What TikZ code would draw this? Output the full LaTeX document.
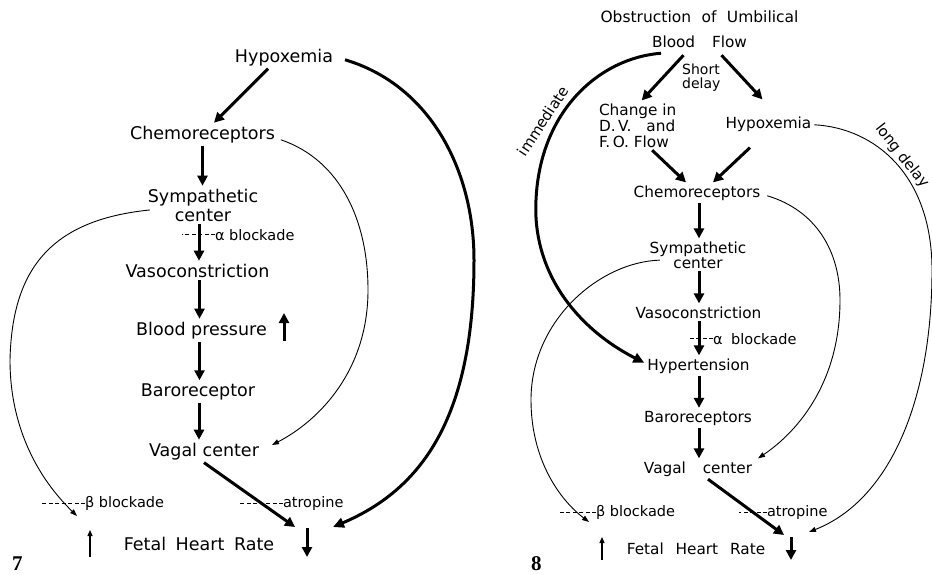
\documentclass[tikz,border=0pt]{standalone}
\usepackage{fontspec}
\setmainfont{DejaVu Sans}
\newfontfamily\numfont{Liberation Serif}
\usetikzlibrary{arrows.meta}

\tikzset{
  lab/.style={inner sep=0pt, outer sep=3pt, anchor=base},
  bigtxt/.style={lab, font=\fontsize{17.5}{19}\selectfont},
  smtxt/.style={lab, font=\fontsize{15.3}{15}\selectfont},
  note/.style={inner sep=0pt, outer sep=0pt, anchor=base west, font=\fontsize{14.5}{16}\selectfont},
  slant/.style={inner sep=0pt, outer sep=0pt, font=\fontsize{14.8}{16}\selectfont},
  fignum/.style={inner sep=0pt, anchor=base west, font=\numfont\bfseries\fontsize{21}{21}\selectfont},
  heavy/.style={line width=3pt, -{Triangle[length=10pt,width=10pt]}},
  heavycurve/.style={line width=3pt, -{Triangle[length=11pt,width=10pt]}},
  light/.style={line width=0.9pt, -{Triangle[length=7pt,width=5pt]}},
  tick/.style={line width=1.1pt, -{Triangle[length=6pt,width=5pt]}},
  block/.style={line width=0.7pt, dash pattern=on 4pt off 2.5pt}
}

\begin{document}
\begin{tikzpicture}[x=1pt,y=-1pt]
\fill[white] (0,0) rectangle (932,574);
\useasboundingbox (0,0) rectangle (932,574);

% ---------------- Figure 7 ----------------
\node[bigtxt] (hypL) at (284,62) {Hypoxemia};
\node[bigtxt] (chemoL) at (202.5,139) {Chemoreceptors};
\node[bigtxt, anchor=north, align=center] (sympL) at (203,185.7) {Sympathetic\\center};
\node[note] (alphaL) at (215,240) {α blockade};
\node[bigtxt] (vasoL) at (197.5,277) {Vasoconstriction};
\node[bigtxt] (bpL) at (201.5,335) {Blood pressure};
\node[bigtxt] (baroL) at (198,396) {Baroreceptor};
\node[bigtxt] (vagalL) at (204,456) {Vagal center};
\node[note] (betaL) at (85,507) {β blockade};
\node[note] (atroL) at (283,507) {atropine};
\node[bigtxt] (fhrL) at (199,550) {Fetal\hspace{4pt} Heart\hspace{4pt} Rate};
\node[fignum] (numL) at (12,570.5) {7};

\coordinate (bpUpA) at (284,341);
\coordinate (bpUpB) at (284,313);
\coordinate (upLA) at (90,557);
\coordinate (upLB) at (90,530);
\coordinate (dnLA) at (307,528);
\coordinate (dnLB) at (307,557);
\coordinate (vagEndL) at (295,527);
\coordinate (hypEndL) at (333,527);
\coordinate (chemoEndL) at (272,445);
\coordinate (betaEndL) at (77,516);

\draw[heavy] ([xshift=-16pt]hypL.south) -- ([xshift=11.5pt]chemoL.north);
\draw[heavy] (chemoL.south) -- (chemoL.south |- sympL.north);
\draw[heavy] ([xshift=-4pt]sympL.south) -- ([xshift=-4pt]sympL.south |- vasoL.north);
\draw[heavy] ([xshift=2pt]vasoL.south) -- ([xshift=2pt]vasoL.south |- bpL.north);
\draw[heavy] ([xshift=-2pt]bpL.south) -- ([xshift=-2pt]bpL.south |- baroL.north);
\draw[heavy] ([xshift=1pt]baroL.south) -- ([xshift=1pt]baroL.south |- vagalL.north);
\draw[heavy] (vagalL.south) -- (vagEndL);
\draw[heavy] (bpUpA) -- (bpUpB);
\draw[heavy] (dnLA) -- (dnLB);
\draw[tick] (upLA) -- (upLB);

\draw[block] (alphaL.west) -- ++(-33,0);
\draw[block] (betaL.west) -- ++(-45,0);
\draw[block] (atroL.west) -- ++(-43,0);

\draw[heavycurve] ([xshift=9pt,yshift=-2.6pt]hypL.east)
  .. controls (430,85) and (474,170) .. (474,260)
  .. controls (474,420) and (420,490) .. (hypEndL);
\draw[light] ([xshift=3pt,yshift=-5.6pt]chemoL.east)
  .. controls (340,160) and (368,220) .. (368,290)
  .. controls (368,370) and (320,420) .. (chemoEndL);
\draw[light] ([xshift=5pt,yshift=-5pt]sympL.west)
  .. controls (50,220) and (12,270) .. (10,360)
  .. controls (10,430) and (40,480) .. (betaEndL);

% ---------------- Figure 8 ----------------
\node[lab, font=\fontsize{15.5}{16}\selectfont] (obsR) at (699.5,22) {Obstruction\hspace{5.5pt} of\hspace{5.5pt} Umbilical};
\node[smtxt] (bloodR) at (699.5,47) {Blood\hspace{12pt} Flow};
\node[inner sep=0pt, anchor=north west, align=left, font=\fontsize{14}{14}\selectfont] (shortR) at (682,63.4) {Short\\delay};
\node[lab, anchor=north west, align=left, font=\fontsize{15.3}{16}\selectfont] (changeR) at (596,100.4) {Change in\\D.\,V.\hspace{10pt} and\\F.\,O. Flow};
\node[smtxt] (hypR) at (768.5,128) {Hypoxemia};
\node[smtxt] (chemoR) at (697,197) {Chemoreceptors};
\node[smtxt, anchor=north, align=center] (sympR) at (698,238.4) {Sympathetic\\center};
\node[smtxt] (vasoR) at (698.5,318) {Vasoconstriction};
\node[note] (alphaR) at (713,344) {α\hspace{4pt} blockade};
\node[smtxt] (hyperR) at (698.5,370) {Hypertension};
\node[smtxt] (baroR) at (698,422) {Baroreceptors};
\node[smtxt] (vagalR) at (698,473) {Vagal\hspace{12pt} center};
\node[note] (betaR) at (596,516) {β blockade};
\node[note] (atroR) at (767,516) {atropine};
\node[smtxt] (fhrR) at (696,554) {Fetal\hspace{7pt} Heart\hspace{7pt} Rate};
\node[fignum] (numR) at (531,570.5) {8};
\node[slant, rotate=57] (immR) at (543,121) {immediate};
\node[slant, rotate=-52] (longR) at (902,156) {long delay};

\coordinate (upRA) at (602,560);
\coordinate (upRB) at (602,537);
\coordinate (dnRA) at (791,537);
\coordinate (dnRB) at (791,560);
\coordinate (vagEndR) at (784,535);
\coordinate (hypEndR) at (809,532);
\coordinate (betaEndR) at (589,522);

\draw[heavy] ([xshift=-16pt,yshift=-5pt]bloodR.south) -- ([xshift=4pt]changeR.north);
\draw[heavy] ([xshift=22pt,yshift=-5pt]bloodR.south) -- ([xshift=-6pt,yshift=14pt]hypR.north);
\draw[heavy] ([xshift=14.5pt]changeR.south) -- ([xshift=-11pt]chemoR.north);
\draw[heavy] ([xshift=-18.5pt,yshift=-13.4pt]hypR.south) -- ([xshift=16pt]chemoR.north);
\draw[heavy] ([xshift=2pt]chemoR.south) -- ([xshift=2pt]chemoR.south |- sympR.north);
\draw[heavy] ([xshift=1pt]sympR.south) -- ([xshift=1pt]sympR.south |- vasoR.north);
\draw[heavy] ([xshift=0.5pt]vasoR.south) -- ([xshift=0.5pt]vasoR.south |- hyperR.north);
\draw[heavy] ([xshift=0.5pt]hyperR.south) -- ([xshift=0.5pt]hyperR.south |- baroR.north);
\draw[heavy] ([xshift=1pt]baroR.south) -- ([xshift=1pt]baroR.south |- vagalR.north);
\draw[heavy] ([xshift=10pt]vagalR.south) -- (vagEndR);
\draw[heavy] (dnRA) -- (dnRB);
\draw[tick] (upRA) -- (upRB);

\draw[block] (alphaR.west) -- ++(-25,0);
\draw[block] (betaR.west) -- ++(-38,0);
\draw[block] (atroR.west) -- ++(-28,0);

\draw[heavycurve] ([xshift=12pt,yshift=-3pt]bloodR.south west)
  .. controls (600,58) and (540,110) .. (536,200)
  .. controls (532,275) and (580,330) .. ([yshift=3pt]hyperR.west);
\draw[light] ([xshift=13pt,yshift=-5.3pt]sympR.west)
  .. controls (600,262) and (531,320) .. (531,400)
  .. controls (531,460) and (560,500) .. (betaEndR);
\draw[light] ([xshift=4pt,yshift=-3pt]chemoR.east)
  .. controls (815,210) and (840,250) .. (840,300)
  .. controls (840,380) and (800,430) .. ([xshift=3pt]vagalR.north east);
\draw[light] ([yshift=-1pt]hypR.east)
  .. controls (875,128) and (932,175) .. (932,270)
  .. controls (932,400) and (890,500) .. (hypEndR);
\end{tikzpicture}
\end{document}
